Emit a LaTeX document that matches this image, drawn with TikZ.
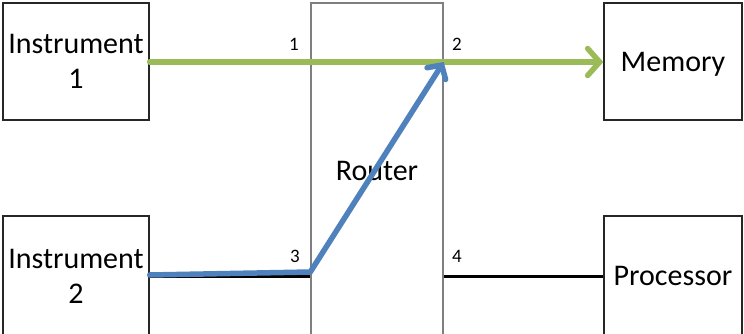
\documentclass[tikz,border=0pt]{standalone}
\usepackage{fontspec}
\setmainfont{Carlito}
\usetikzlibrary{arrows.meta}
\definecolor{cgreen}{HTML}{9BBB59}
\definecolor{cblue}{HTML}{4F81BD}
\definecolor{cgray}{HTML}{7F7F7F}
\begin{document}
\begin{tikzpicture}[x=1pt,y=-1pt,
  box/.style={draw=black!85,line width=1.4pt,minimum width=#1,align=center,inner sep=0pt,
    font=\fontsize{30}{35}\selectfont},
  box/.default=146pt,
  num/.style={font=\fontsize{19}{22}\selectfont,inner sep=0pt},
  garrow/.style={draw=cgreen,line width=5.5pt,line cap=round,-{Straight Barb[length=12pt,width=27pt,line cap=round]}},
  barrow/.style={draw=cblue,line width=5.5pt,line cap=round,line join=round,-{Straight Barb[length=10pt,width=22pt,line cap=round]}},
  bline/.style={draw=black,line width=3pt}]
\useasboundingbox (0,0) rectangle (744,334);
\clip (0,0) rectangle (744,334);
\fill[white] (0,0) rectangle (744,334);
% boxes
\node[box,minimum height=117pt] (i1) at (76,61.5) {Instrument\\1};
\node[box,minimum height=120pt] (i2) at (76,276) {Instrument\\2};
\node[box=132pt,draw=cgray,minimum height=336pt] (r) at (377,171) {Router};
\node[box=138pt,minimum height=117pt,text depth=0pt] (m) at (673,61.5) {Memory};
\node[box=138pt,minimum height=120pt] (p) at (673,276) {Processor};
% labels
\node[num] (n1) at (294,44) {1};
\node[num] (n2) at (457,44) {2};
\node[num] (n3) at (295,256) {3};
\node[num] (n4) at (457,256) {4};
% connector points
\coordinate (a1) at (i1.east |- 0,62);
\coordinate (b1) at (m.west |- 0,62);
\coordinate (rin) at (r.west |- 0,276);
\coordinate (bend) at (r.west |- 0,272);
\coordinate (tip) at (r.east |- 0,62);
\coordinate (bs) at (i2.east |- 0,275);
\coordinate (rout) at (r.east |- 0,276);
\coordinate (pin) at (p.west |- 0,276);
% connectors
\draw[bline] (bs |- rin) -- (rin);
\draw[bline] (rout) -- (pin);
\draw[garrow] (a1) -- (b1);
\draw[barrow] (bs) -- (bend) -- (tip);
\end{tikzpicture}
\end{document}
